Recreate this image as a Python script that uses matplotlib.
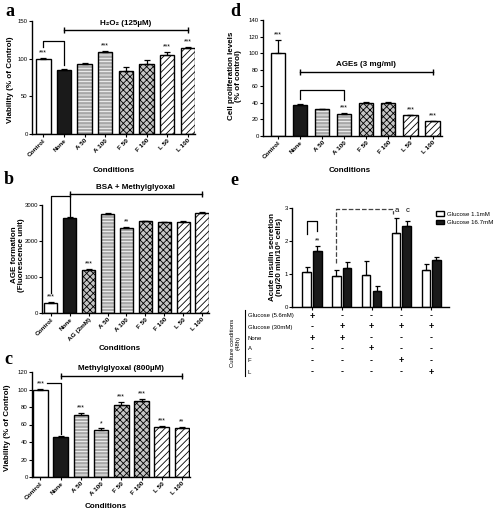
import numpy as np
import matplotlib
matplotlib.use('Agg')
import matplotlib.pyplot as plt
import matplotlib.transforms as mtransforms
from matplotlib.patches import Rectangle
from matplotlib.lines import Line2D

plt.rcParams['font.family'] = ['Liberation Sans', 'DejaVu Sans']
plt.rcParams['hatch.linewidth'] = 0.6

# ---- data ----
a_labels = ['Control', 'None', 'A 50', 'A 100', 'F 50', 'F 100', 'L 50', 'L 100']
a_vals = [100, 85, 92.5, 108.5, 84, 92.5, 104.5, 113.5]
a_err = [1.5, 1, 2, 1.5, 5, 6, 5, 2.5]
a_stars = ['***', '', '', '***', '', '', '***', '***']
a_styles = ['white', 'black', 'hline', 'hline', 'check', 'check', 'diag', 'diag']

d_labels = a_labels
d_vals = [100, 38, 32, 27, 39.5, 39.5, 25, 18]
d_err = [16, 1, 1, 1, 1, 1.2, 0.8, 0.5]
d_stars = ['***', '', '', '***', '', '', '***', '***']

b_labels = ['Control', 'None', 'AG (2mM)', 'A 50', 'A 100', 'F 50', 'F 100', 'L 50', 'L 100']
b_vals = [280, 2640, 1200, 2740, 2355, 2545, 2515, 2540, 2770]
b_err = [20, 40, 15, 50, 25, 20, 20, 15, 30]
b_stars = ['***', '', '***', '', '**', '', '', '', '']
b_styles = ['white', 'black', 'check', 'hline', 'hline', 'check', 'check', 'diag', 'diag']

c_labels = a_labels
c_vals = [100, 45.5, 71, 54, 82.5, 86.5, 57.5, 56.5]
c_err = [1, 1.5, 2.5, 1.5, 3, 2.5, 0.8, 1]
c_stars = ['***', '', '***', '*', '***', '***', '***', '**']

e_low = [1.05, 0.95, 0.98, 2.23, 1.12]
e_low_err = [0.15, 0.16, 0.42, 0.46, 0.18]
e_high = [1.70, 1.17, 0.50, 2.45, 1.42]
e_high_err = [0.16, 0.19, 0.13, 0.15, 0.11]
e_rows = ['Glucose (5.6mM)', 'Glucose (30mM)', 'None', 'A', 'F', 'L']
e_signs = [['+', '-', '-', '-', '-'],
           ['-', '+', '+', '+', '+'],
           ['+', '+', '-', '-', '-'],
           ['-', '-', '+', '-', '-'],
           ['-', '-', '-', '+', '-'],
           ['-', '-', '-', '-', '+']]

W, H = 497, 512
fig = plt.figure(figsize=(W / 100, H / 100), dpi=100)


def px_axes(x0, y0, x1, y1):
    ax = fig.add_axes([x0 / W, 1 - y1 / H, (x1 - x0) / W, (y1 - y0) / H])
    for s in ['top', 'right']:
        ax.spines[s].set_visible(False)
    for s in ['left', 'bottom']:
        ax.spines[s].set_linewidth(1.0)
    ax.tick_params(length=2, width=0.8, labelsize=4.3, pad=1)
    return ax


def draw_bars(ax, vals, errs, styles, width):
    x = np.arange(len(vals))
    for xi, v, st in zip(x, vals, styles):
        if st == 'white':
            ax.bar(xi, v, width, color='white', edgecolor='k', lw=1)
        elif st == 'black':
            ax.bar(xi, v, width, color='#1a1a1a', edgecolor='k', lw=1)
        else:
            face, hcol, hatch = {'hline': ('#a8a8a8', 'white', '-----'),
                                 'check': ('#c4c4c4', 'black', 'xxxxx'),
                                 'diag': ('white', 'black', '/////')}[st]
            ax.bar(xi, v, width, color=face, edgecolor=hcol, lw=0, hatch=hatch)
            ax.bar(xi, v, width, fill=False, edgecolor='k', lw=1)
    ax.errorbar(x, vals, yerr=[np.zeros(len(errs)), errs], fmt='none', ecolor='k',
                elinewidth=0.9, capsize=2.2, capthick=0.9)


def stars(ax, vals, errs, marks, off):
    for xi, (v, e, s) in enumerate(zip(vals, errs, marks)):
        if s:
            ax.text(xi, v + e + off, s, ha='center', va='bottom', fontsize=5)


def xlabels(ax, labels):
    ax.set_xticks(np.arange(len(labels)))
    ax.set_xticklabels(labels, rotation=45, ha='right', rotation_mode='anchor',
                       fontsize=4.6, fontweight='bold')


def span(ax, x0, x1, y, text, ty):
    ax.plot([x0, x1], [y, y], color='k', lw=1, marker='|', markersize=4,
            clip_on=False)
    ax.text((x0 + x1) / 2, ty, text, ha='center', va='center', fontsize=5.8,
            fontweight='bold')


def bracket(ax, x0, y0, x1, y1, top, color='k', ls='-'):
    ax.plot([x0, x0, x1, x1], [y0, top, top, y1], color=color, ls=ls, lw=0.9,
            clip_on=False)


def ftext(x, y, s, **kw):
    fig.text(x / W, 1 - y / H, s, **kw)


bold = dict(fontsize=5.8, fontweight='bold', ha='center', va='center')
letter = dict(fontsize=13, fontweight='bold', family='Liberation Serif',
              ha='left', va='top')

# ---- panel a ----
ax = px_axes(32, 21, 195, 134)
draw_bars(ax, a_vals, a_err, a_styles, 0.7)
stars(ax, a_vals, a_err, a_stars, 2)
ax.set_ylim(0, 150)
ax.set_yticks([0, 50, 100, 150])
ax.set_xlim(-0.55, 7.35)
xlabels(ax, a_labels)
span(ax, 1, 7, 138, 'H\u2082O\u2082 (125\u00b5M)', 147)
bracket(ax, 0, 115, 1, 91, 124)
ftext(11, 80, 'Viability (% of Control)', rotation=90, **bold)
ftext(114, 171, 'Conditions', **bold)
ftext(5, 3, 'a', **letter)

# ---- panel d ----
ax = px_axes(263, 20, 442, 136)
draw_bars(ax, d_vals, d_err, a_styles, 0.64)
stars(ax, d_vals, d_err, d_stars, 2)
ax.set_ylim(0, 140)
ax.set_yticks(range(0, 141, 20))
ax.set_xlim(-0.68, 7.43)
xlabels(ax, d_labels)
span(ax, 1, 7, 77.5, 'AGEs (3 mg/ml)', 86)
bracket(ax, 1, 45, 3, 43, 55)
ftext(235, 76, 'Cell proliferation levels\n(% of control)', rotation=90,
      linespacing=1.1, **bold)
ftext(350, 170, 'Conditions', **bold)
ftext(230, 3, 'd', **letter)

# ---- panel b ----
ax = px_axes(42, 205, 209, 313)
draw_bars(ax, b_vals, b_err, b_styles, 0.69)
stars(ax, b_vals, b_err, b_stars, 50)
ax.set_ylim(0, 3000)
ax.set_yticks([0, 1000, 2000, 3000])
ax.set_xlim(-0.47, 8.37)
xlabels(ax, b_labels)
span(ax, 1, 8, 3300, 'BSA + Methylglyoxal', 3490)
bracket(ax, 0, 560, 1, 2700, 3250)
ftext(18, 255, 'AGE formation\n(Fluorescence unit)', rotation=90,
      linespacing=1.1, **bold)
ftext(120, 348, 'Conditions', **bold)
ftext(4, 171, 'b', **letter)

# ---- panel c ----
ax = px_axes(32, 372, 190, 477)
draw_bars(ax, c_vals, c_err, a_styles, 0.72)
stars(ax, c_vals, c_err, c_stars, 1.5)
ax.set_ylim(0, 120)
ax.set_yticks(range(0, 121, 20))
ax.set_xlim(-0.42, 7.4)
xlabels(ax, c_labels)
span(ax, 1, 7, 115, 'Methylglyoxal (800\u00b5M)', 123.5)
ax.plot([0.32, 1, 1], [107, 107, 49], color='k', lw=0.9, clip_on=False)
ftext(8, 428, 'Viability (% of Control)', rotation=90, **bold)
ftext(106, 507, 'Conditions', **bold)
ftext(4, 351, 'c', **letter)

# ---- panel e ----
ax = px_axes(292, 208, 449, 307)
xg = np.arange(len(e_low))
off, bw = 0.18, 0.285
ax.bar(xg - off, e_low, bw, color='white', edgecolor='k', lw=1)
ax.bar(xg + off, e_high, bw, color='#1a1a1a', edgecolor='k', lw=1)
ax.errorbar(xg - off, e_low, yerr=[np.zeros(5), e_low_err], fmt='none', ecolor='k',
            elinewidth=0.9, capsize=1.8, capthick=0.9)
ax.errorbar(xg + off, e_high, yerr=[np.zeros(5), e_high_err], fmt='none', ecolor='k',
            elinewidth=0.9, capsize=1.8, capthick=0.9)
ax.set_ylim(0, 3)
ax.set_yticks([0, 1, 2, 3])
ax.set_xlim(-0.67, 4.6)
ax.set_xticks(xg)
ax.set_xticklabels([])
ax.text(off, e_high[0] + e_high_err[0] + 0.05, '**', ha='center', va='bottom', fontsize=5)
bracket(ax, -off, 2.22, off, 2.3, 2.62)
bracket(ax, 1 - off, 1.33, 2.71, 2.83, 2.97, color='#444444', ls='--')
ax.text(2.84, 2.92, 'a', ha='center', va='center', fontsize=5.5)
ax.text(3.22, 2.92, 'c', ha='center', va='center', fontsize=5.5)
handles = [Rectangle((0, 0), 1, 1, facecolor='white', edgecolor='k', lw=1),
           Rectangle((0, 0), 1, 1, facecolor='#1a1a1a', edgecolor='k', lw=1)]
ax.legend(handles, ['Glucose 1.1mM', 'Glucose 16.7mM'], loc='upper left',
          bbox_to_anchor=(433 / W, 1 - 208 / H), bbox_transform=fig.transFigure,
          frameon=False, fontsize=4.4, handlelength=1.3, handleheight=0.8,
          borderpad=0, labelspacing=0.5, handletextpad=0.5)
ftext(276, 257, 'Acute insulin secretion\n(ng/20 min/10\u2076 cells)', rotation=90,
      linespacing=1.1, **bold)
ftext(230, 172, 'e', **letter)

trans = mtransforms.blended_transform_factory(ax.transData, fig.transFigure)
row_y = [316, 327, 338, 349, 361, 372]
for lab, yy, signs in zip(e_rows, row_y, e_signs):
    ftext(248, yy, lab, fontsize=4.3, va='center', ha='left')
    for j, s in enumerate(signs):
        ax.text(j, 1 - yy / H, s, transform=trans, ha='center', va='center',
                fontsize=6.5, fontweight='bold')
fig.add_artist(Line2D([245 / W, 245 / W], [1 - 310 / H, 1 - 376 / H], color='k', lw=0.8))
ftext(235, 343, 'Culture conditions\n(48h)', rotation=90, ha='center', va='center',
      fontsize=4.3, linespacing=1.1)

fig.savefig('out.png', dpi=100)
